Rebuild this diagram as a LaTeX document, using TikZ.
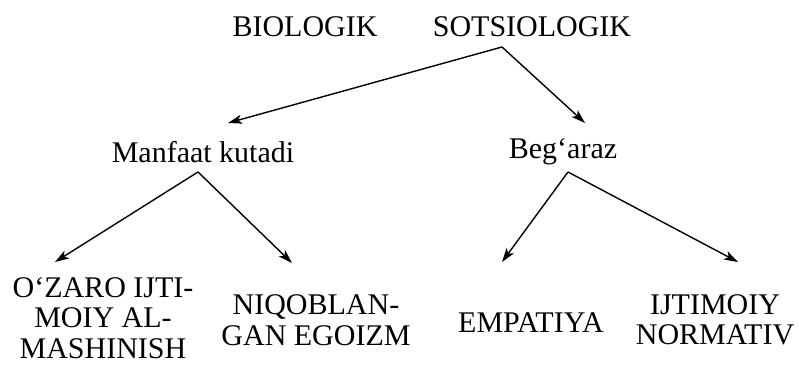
\documentclass[tikz,border=0pt]{standalone}
\usepackage{fontspec}
\setmainfont{Liberation Serif}
\usetikzlibrary{arrows.meta}
\begin{document}
\begin{tikzpicture}[x=1pt,y=-1pt,
  lbl/.style={inner sep=0pt,font=\fontsize{30}{30.5}\selectfont,align=center},
  arr/.style={line width=1.4pt,-{Stealth[length=14pt,width=9pt,inset=3.5pt]}}]
\useasboundingbox (0,0) rectangle (799,366);
\node[lbl] (bio) at (305,27) {BIOLOGIK};
\node[lbl] (sots) at (532,27) {SOTSIOLOGIK};
\node[lbl] (manf) at (203,152) {Manfaat kutadi};
\node[lbl] (beg) at (563,152) {Beg‘araz};
\node[lbl] (ozaro) at (103,318) {O‘ZARO IJTI-\\MOIY AL-\\MASHINISH};
\node[lbl] (niq) at (316,320) {NIQOBLAN-\\GAN EGOIZM};
\node[lbl] (emp) at (531,323) {EMPATIYA};
\node[lbl] (ijt) at (715,320) {IJTIMOIY\\NORMATIV};
\coordinate (a0) at (502,47);
\coordinate (t1) at (228,123);
\coordinate (t2) at (585,123);
\coordinate (a1) at (198,172);
\coordinate (t3) at (55,262);
\coordinate (t4) at (292,263);
\coordinate (a2) at (568,172);
\coordinate (t5) at (502,262);
\coordinate (t6) at (738,262);
\draw[arr] (a0) -- (t1);
\draw[arr] (a0) -- (t2);
\draw[arr] (a1) -- (t3);
\draw[arr] (a1) -- (t4);
\draw[arr] (a2) -- (t5);
\draw[arr] (a2) -- (t6);
\end{tikzpicture}
\end{document}
